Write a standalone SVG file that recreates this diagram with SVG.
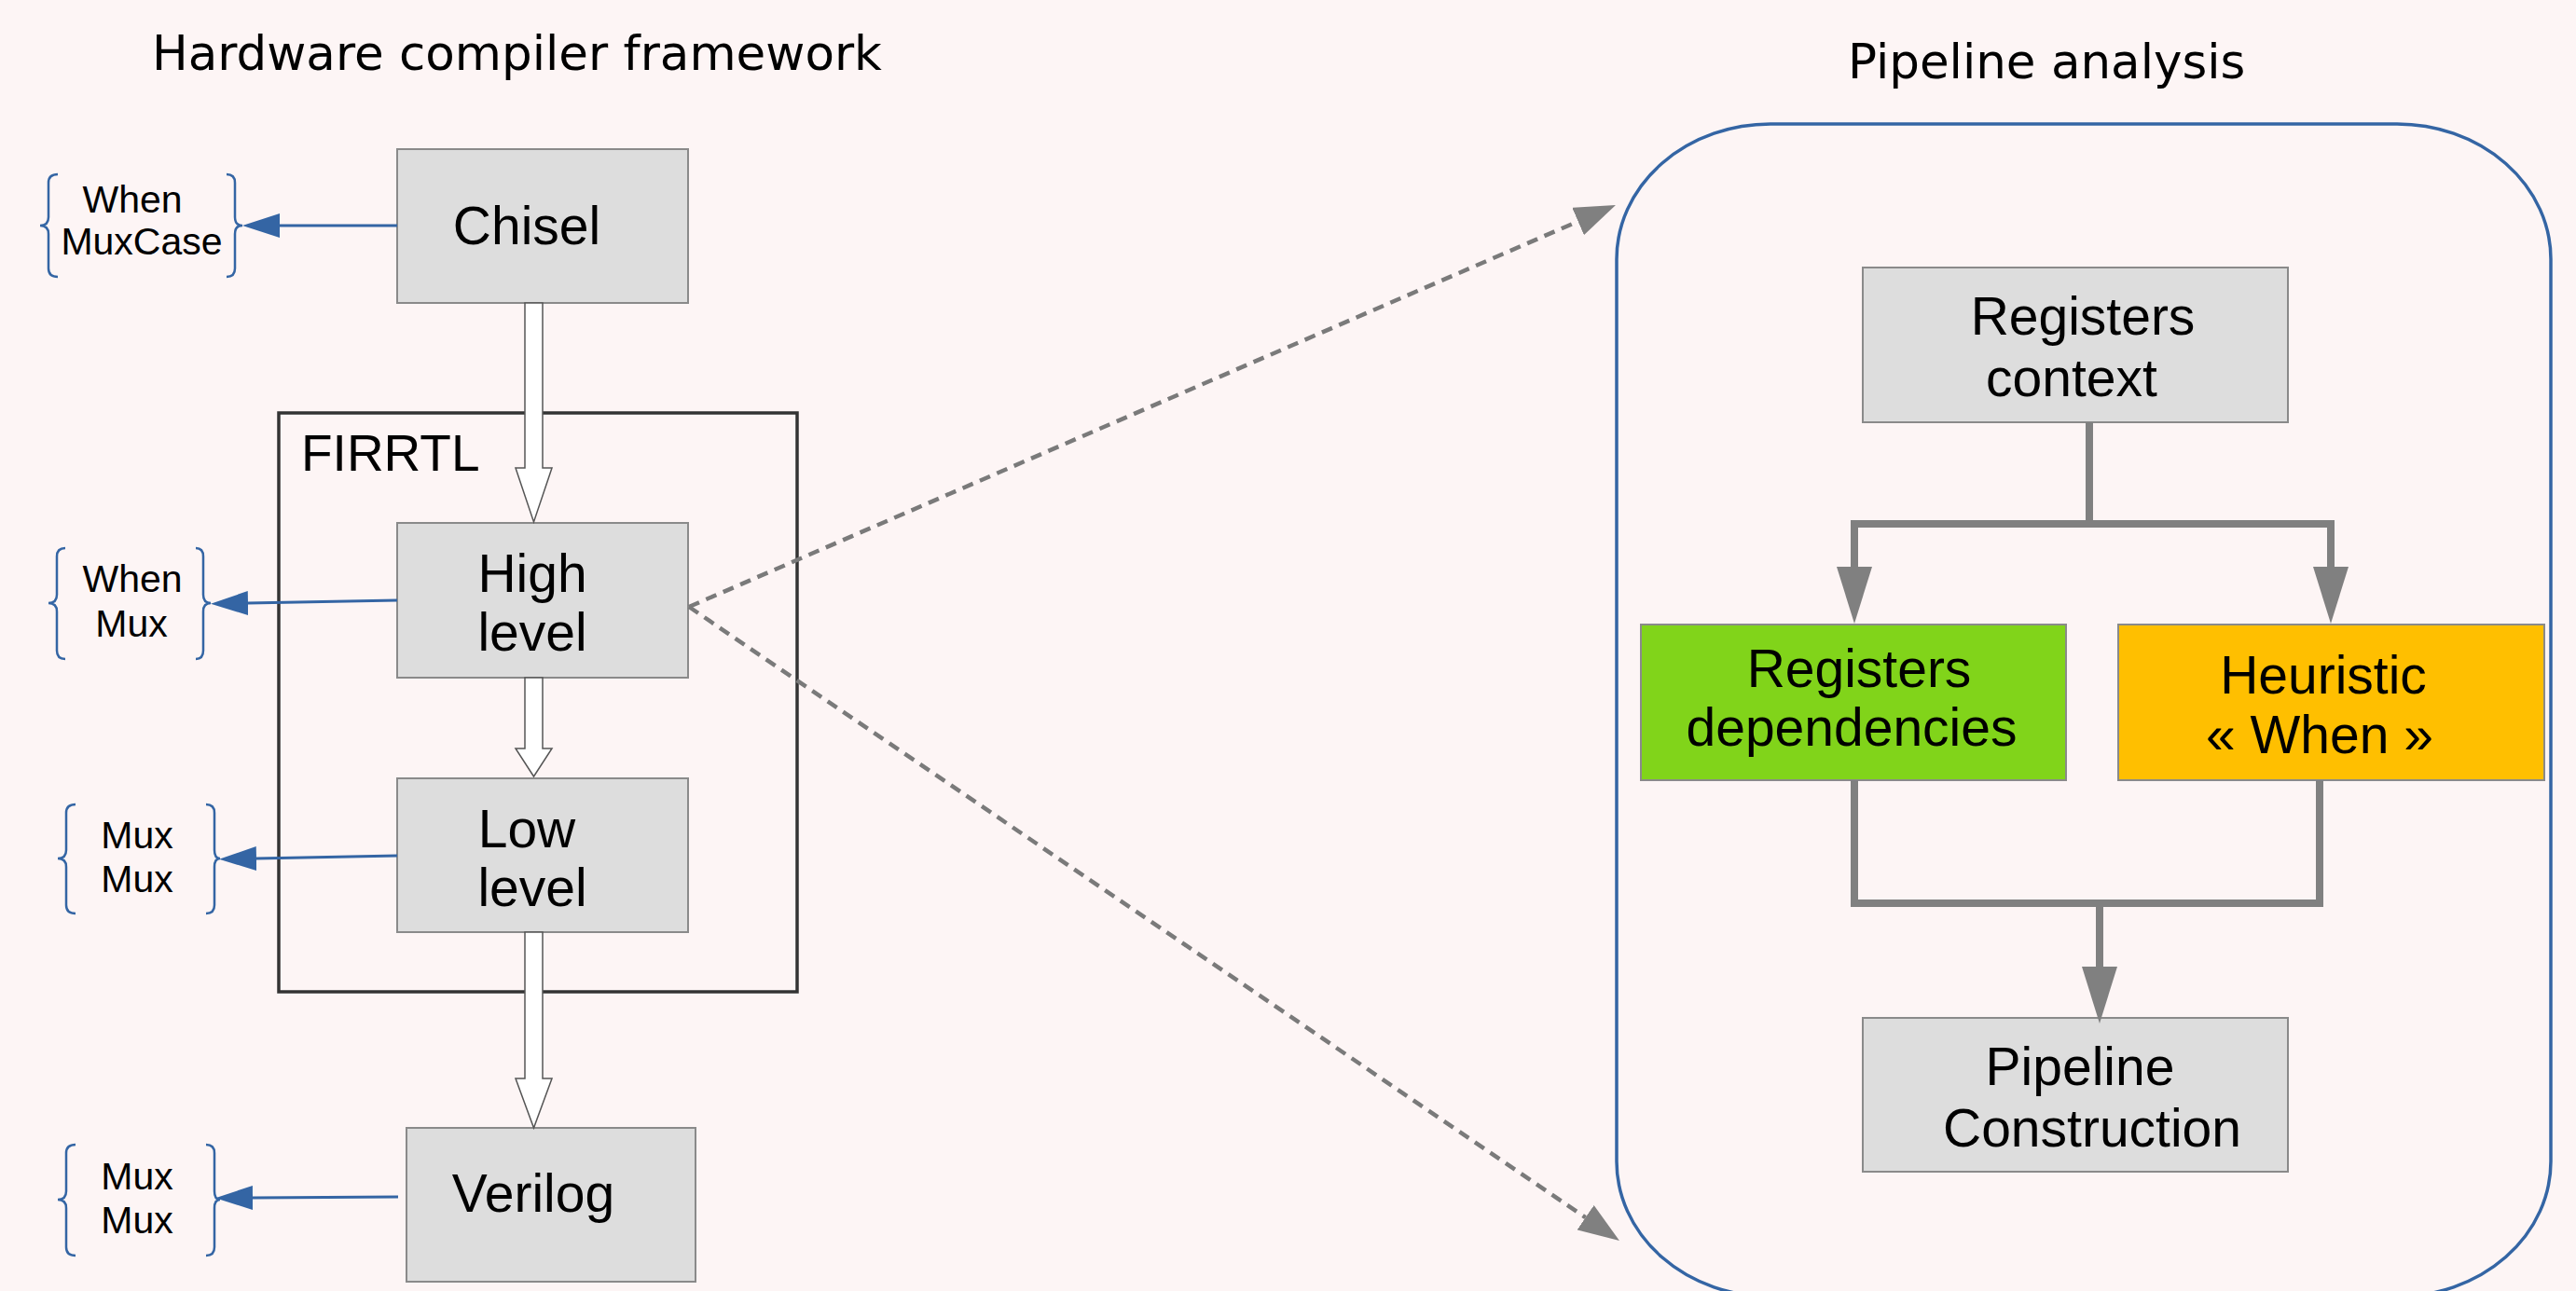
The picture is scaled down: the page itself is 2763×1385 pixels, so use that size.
<svg xmlns="http://www.w3.org/2000/svg" width="2763" height="1385" viewBox="0 0 2763 1385">
<style>
.bg{fill:#fdf5f5}
.box{fill:#dddddd;stroke:#8a8a8a;stroke-width:2}
.green{fill:#81d41a;stroke:#8a8a8a;stroke-width:2}
.orange{fill:#ffbf00;stroke:#8a8a8a;stroke-width:2}
.lbl{font-family:"Liberation Sans",Arial,sans-serif;font-size:57px;fill:#000;text-anchor:middle}
.small{font-family:"Liberation Sans",Arial,sans-serif;font-size:41px;fill:#000;text-anchor:middle}
.title{font-family:"DejaVu Sans",sans-serif;font-size:51.5px;fill:#000}
.brace{fill:none;stroke:#3465a4;stroke-width:2.5}
.blue{stroke:#3465a4;stroke-width:3;fill:none}
.gray{stroke:#808080;stroke-width:8;fill:none;stroke-linejoin:miter}
.dash{stroke:#7a7a7a;stroke-width:4.5;fill:none;stroke-dasharray:12 8}
.block{fill:#ffffff;stroke:#555555;stroke-width:1.5}
</style>
<defs>
<marker id="mBlue" viewBox="0 0 40 26" refX="0" refY="13" markerWidth="40" markerHeight="26" markerUnits="userSpaceOnUse" orient="auto"><path d="M0,0 L40,13 L0,26 z" fill="#3465a4"/></marker>
<marker id="mGray" viewBox="0 0 61 38" refX="0" refY="19" markerWidth="61" markerHeight="38" markerUnits="userSpaceOnUse" orient="auto"><path d="M0,0 L61,19 L0,38 z" fill="#808080"/></marker>
<marker id="mDash" viewBox="0 0 44 32" refX="0" refY="16" markerWidth="44" markerHeight="32" markerUnits="userSpaceOnUse" orient="auto"><path d="M0,0 L44,16 L0,32 z" fill="#808080"/></marker>
</defs>
<rect class="bg" x="0" y="0" width="2763" height="1385"/>

<text class="title" x="163" y="75">Hardware compiler framework</text>
<text class="title" x="1982" y="84">Pipeline analysis</text>

<g id="pipeline-container">
<rect x="1734" y="133" width="1002" height="1258" rx="165" ry="145" fill="none" stroke="#3465a4" stroke-width="3.5"/>
</g>

<g id="firrtl">
<rect x="299" y="443" width="556" height="621" fill="none" stroke="#333333" stroke-width="3.5"/>
<text x="323" y="505" font-family="Liberation Sans, Arial, sans-serif" font-size="55" fill="#000">FIRRTL</text>
</g>

<g id="chisel">
<rect class="box" x="426" y="160" width="312" height="165"/>
<text class="lbl" x="565" y="262">Chisel</text>
</g>
<g id="high-level">
<rect class="box" x="426" y="561" width="312" height="166"/>
<text class="lbl" x="571" y="635">High</text>
<text class="lbl" x="571" y="698">level</text>
</g>
<g id="low-level">
<rect class="box" x="426" y="835" width="312" height="165"/>
<text class="lbl" x="565" y="909">Low</text>
<text class="lbl" x="571" y="972">level</text>
</g>
<g id="verilog">
<rect class="box" x="436" y="1210" width="310" height="165"/>
<text class="lbl" x="572" y="1300">Verilog</text>
</g>

<g id="brace-chisel">
<path class="brace" d="M62,187 Q52,187 52,196 L52,233 Q52,242 43,242 Q52,242 52,251 L52,288 Q52,297 62,297"/>
<path class="brace" d="M243,187 Q252,187 252,196 L252,233 Q252,242 260,242 Q252,242 252,251 L252,288 Q252,297 243,297"/>
<text class="small" x="142" y="228">When</text>
<text class="small" x="152" y="273">MuxCase</text>
</g>
<g id="brace-high">
<path class="brace" d="M70,588 Q61,588 61,597 L61,638 Q61,647 52,647 Q61,647 61,656 L61,698 Q61,707 70,707"/>
<path class="brace" d="M210,588 Q218,588 218,597 L218,638 Q218,647 226,647 Q218,647 218,656 L218,698 Q218,707 210,707"/>
<text class="small" x="142" y="635">When</text>
<text class="small" x="141" y="683">Mux</text>
</g>
<g id="brace-low">
<path class="brace" d="M81,863 Q71,863 71,872 L71,912 Q71,921 62,921 Q71,921 71,930 L71,971 Q71,980 81,980"/>
<path class="brace" d="M221,863 Q230,863 230,872 L230,912 Q230,921 236,921 Q230,921 230,930 L230,971 Q230,980 221,980"/>
<text class="small" x="147" y="910">Mux</text>
<text class="small" x="147" y="957">Mux</text>
</g>
<g id="brace-verilog">
<path class="brace" d="M81,1228 Q71,1228 71,1237 L71,1278 Q71,1287 62,1287 Q71,1287 71,1296 L71,1338 Q71,1347 81,1347"/>
<path class="brace" d="M221,1228 Q230,1228 230,1237 L230,1278 Q230,1287 236,1287 Q230,1287 230,1296 L230,1338 Q230,1347 221,1347"/>
<text class="small" x="147" y="1276">Mux</text>
<text class="small" x="147" y="1323">Mux</text>
</g>

<g id="registers-context">
<rect class="box" x="1998" y="287" width="456" height="166"/>
<text class="lbl" x="2234" y="359">Registers</text>
<text class="lbl" x="2222" y="425">context</text>
</g>
<g id="registers-dependencies">
<rect class="green" x="1760" y="670" width="456" height="167"/>
<text class="lbl" x="1994" y="737">Registers</text>
<text class="lbl" x="1986" y="800">dependencies</text>
</g>
<g id="heuristic-when">
<rect class="orange" x="2272" y="670" width="457" height="167"/>
<text class="lbl" x="2492" y="744">Heuristic</text>
<text class="lbl" x="2488" y="808">« When »</text>
</g>
<g id="pipeline-construction">
<rect class="box" x="1998" y="1092" width="456" height="165"/>
<text class="lbl" x="2231" y="1164">Pipeline</text>
<text class="lbl" x="2244" y="1230">Construction</text>
</g>

<g id="connectors">
<polygon class="block" points="563,325 582,325 582,502 592,502 572.5,560 553,502 563,502"/>
<polygon class="block" points="563,727 582,727 582,803 592,803 572.5,833 553,803 563,803"/>
<polygon class="block" points="563,1000 582,1000 582,1157 592,1157 572.5,1210 553,1157 563,1157"/>

<line class="blue" x1="426" y1="242" x2="300" y2="242" marker-end="url(#mBlue)"/>
<line class="blue" x1="426" y1="644" x2="266" y2="647" marker-end="url(#mBlue)"/>
<line class="blue" x1="426" y1="918" x2="275" y2="921" marker-end="url(#mBlue)"/>
<line class="blue" x1="427" y1="1284" x2="271" y2="1285" marker-end="url(#mBlue)"/>

<line class="dash" x1="739" y1="651" x2="1692.6" y2="237.5" marker-end="url(#mDash)"/>
<line class="dash" x1="739" y1="651" x2="1700.6" y2="1306.2" marker-end="url(#mDash)"/>

<path class="gray" d="M2241,453 L2241,562"/>
<path class="gray" d="M1989,608 L1989,562 L2500,562 L2500,608"/>
<path class="gray" d="M1989,600 L1989,608" marker-end="url(#mGray)"/>
<path class="gray" d="M2500,600 L2500,608" marker-end="url(#mGray)"/>
<path class="gray" d="M1989,837 L1989,969 L2488,969 L2488,837"/>
<path class="gray" d="M2252,969 L2252,1037" marker-end="url(#mGray)"/>
</g>
</svg>
